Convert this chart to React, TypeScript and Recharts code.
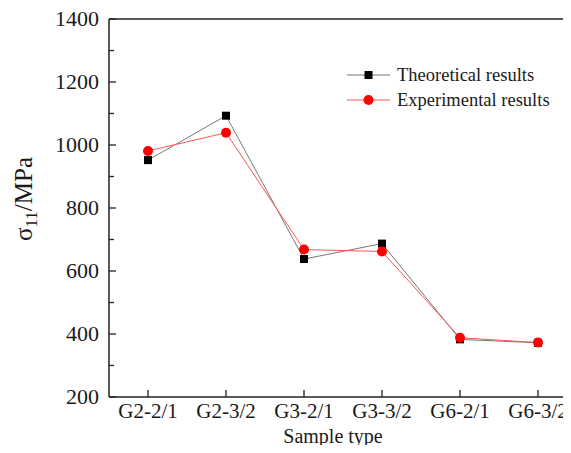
import React from 'react';
import { LineChart, Line, XAxis, YAxis, ReferenceLine } from 'recharts';

const categories = ['G2-2/1', 'G2-3/2', 'G3-2/1', 'G3-3/2', 'G6-2/1', 'G6-3/2'];
const theoretical = [952, 1093, 638, 687, 383, 372];
const experimental = [981, 1039, 668, 662, 388, 373];
const yTicks = [200, 300, 400, 500, 600, 700, 800, 900, 1000, 1100, 1200, 1300, 1400];
const seriesNames = ['Theoretical results', 'Experimental results'];

const data = categories.map((c, i) => ({ name: c, theo: theoretical[i], exp: experimental[i] }));

const FONT = '"Liberation Serif", "Times New Roman", serif';
const AXIS = '#222';

const SquareDot = (props: any) => {
  const { cx, cy } = props;
  if (cx == null || cy == null) return null;
  return <rect x={cx - 4} y={cy - 4} width={8} height={8} fill="#000" />;
};

const CircleDot = (props: any) => {
  const { cx, cy } = props;
  if (cx == null || cy == null) return null;
  return <circle cx={cx} cy={cy} r={5} fill="#ff0000" />;
};

const YTick = (props: any) => {
  const { x, y, payload } = props;
  const axisX = x + 10;
  const major = payload.value % 200 === 0;
  return (
    <g>
      <line x1={axisX} x2={axisX + (major ? 7 : 5)} y1={y} y2={y} stroke={AXIS} strokeWidth={1.3} />
      {major && (
        <text x={x} y={y} dy={7} textAnchor="end" fontFamily={FONT} fontSize={22} fill="#1a1a1a">
          {payload.value}
        </text>
      )}
    </g>
  );
};

const YLabel = (props: any) => {
  const { viewBox } = props;
  const cx = viewBox.x + 32;
  const cy = viewBox.y + viewBox.height / 2 - 9;
  return (
    <text x={cx} y={cy} transform={`rotate(-90, ${cx}, ${cy})`} textAnchor="middle" fontFamily={FONT} fontSize={25} fill="#1a1a1a">
      σ<tspan fontSize={17} dy={5}>11</tspan><tspan dy={-5}>/MPa</tspan>
    </text>
  );
};

const XLabel = (props: any) => {
  const { viewBox } = props;
  const cx = viewBox.x + viewBox.width / 2 - 10;
  const cy = viewBox.y + 46;
  return (
    <text x={cx} y={cy} textAnchor="middle" fontFamily={FONT} fontSize={20} fill="#1a1a1a">
      Sample type
    </text>
  );
};

const LegendBox = () => (
  <svg width={220} height={50} style={{ display: 'block', position: 'absolute', top: 63, left: 345 }}>
    {seriesNames.map((n, i) => {
      const y = 12 + i * 25;
      const color = i === 0 ? '#777' : '#ff5555';
      return (
        <g key={n}>
          <line x1={2} x2={45} y1={y} y2={y} stroke={color} strokeWidth={1} />
          {i === 0 ? (
            <rect x={19.5} y={y - 4} width={8} height={8} fill="#000" />
          ) : (
            <circle cx={23.5} cy={y} r={5} fill="#ff0000" />
          )}
          <text x={52} y={y + 6} fontFamily={FONT} fontSize={18.5} fill="#1a1a1a">{n}</text>
        </g>
      );
    })}
  </svg>
);

export default function App() {
  return (
    <div style={{ margin: -8, width: 571, height: 453, overflow: 'hidden', background: '#fff', position: 'relative' }}>
      <LineChart width={590} height={453} data={data} margin={{ top: 19, right: 13, bottom: 0, left: 0 }}>
        <XAxis
          dataKey="name"
          scale="band"
          tickSize={-7}
          tickMargin={13}
          axisLine={{ stroke: AXIS, strokeWidth: 1.5 }}
          tickLine={{ stroke: AXIS, strokeWidth: 1.3 }}
          tick={{ fontFamily: FONT, fontSize: 21, fill: '#1a1a1a' }}
          interval={0}
          height={56}
          label={<XLabel />}
        />
        <YAxis
          domain={[200, 1400]}
          ticks={yTicks}
          type="number"
          width={109}
          tickSize={0}
          tickMargin={10}
          tickLine={false}
          interval={0}
          axisLine={{ stroke: AXIS, strokeWidth: 1.5 }}
          tick={<YTick />}
          label={<YLabel />}
        />
        <ReferenceLine y={1400} stroke={AXIS} strokeWidth={1.5} />
        <Line dataKey="theo" stroke="#777" strokeWidth={1} dot={<SquareDot />} isAnimationActive={false} />
        <Line dataKey="exp" stroke="#ff5555" strokeWidth={1} dot={<CircleDot />} isAnimationActive={false} />
      </LineChart>
      <LegendBox />
    </div>
  );
}
